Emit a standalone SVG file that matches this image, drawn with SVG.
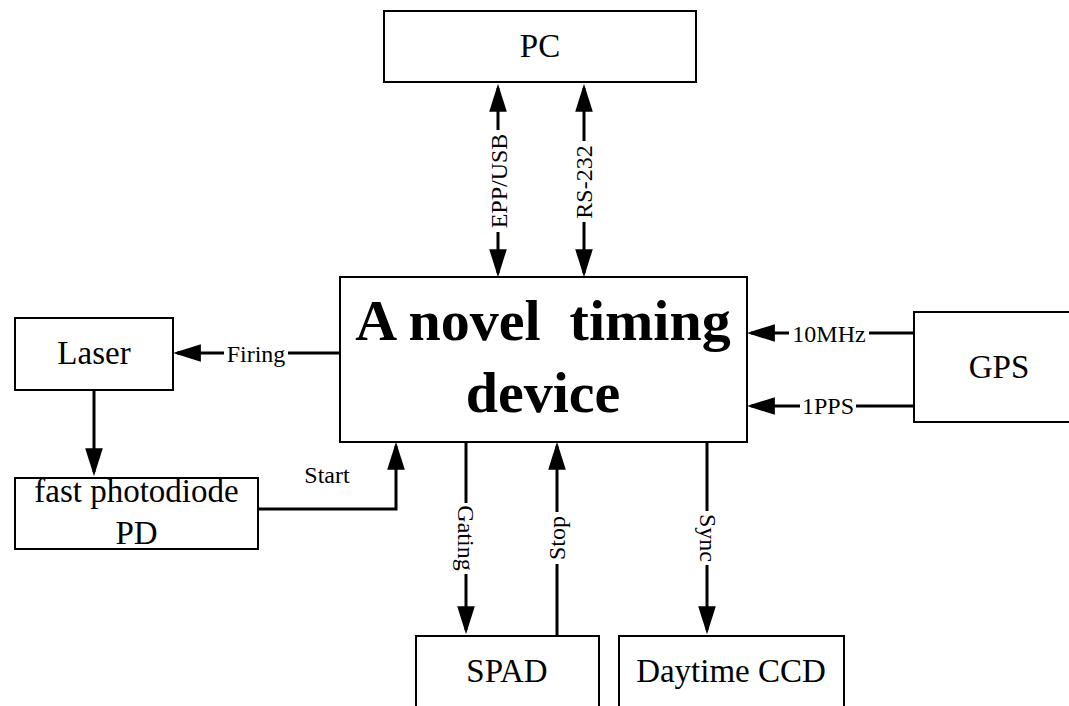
<svg xmlns="http://www.w3.org/2000/svg" width="1069" height="706" viewBox="0 0 1069 706">
<style>
.box{fill:#fff;stroke:#000;stroke-width:2}
.t{font-family:"Liberation Serif","Times New Roman",serif;font-size:33px;text-anchor:middle;fill:#000}
.big{font-family:"Liberation Serif","Times New Roman",serif;font-size:58px;font-weight:bold;text-anchor:middle;fill:#000;white-space:pre}
.c{fill:none;stroke:#000;stroke-width:3}
.lb{font-family:"Liberation Serif","Times New Roman",serif;font-size:24px;text-anchor:middle;fill:#000}
.bg{fill:#fff;stroke:none}
</style>
<defs>
<marker id="ah" markerUnits="userSpaceOnUse" markerWidth="28" markerHeight="18" viewBox="0 0 27 17" refX="23" refY="8.5" orient="auto-start-reverse">
<path d="M0,0 L27,8.5 L0,17 z" fill="#000"/>
</marker>
</defs>
<rect width="1069" height="706" fill="#fff"/>
<g id="connectors">
<path class="c" d="M498,88 V273" marker-start="url(#ah)" marker-end="url(#ah)"/>
<path class="c" d="M584,88 V273" marker-start="url(#ah)" marker-end="url(#ah)"/>
<path class="c" d="M340,353 H177" marker-end="url(#ah)"/>
<path class="c" d="M94,390 V472" marker-end="url(#ah)"/>
<path class="c" d="M258,509 H396 V446" marker-end="url(#ah)"/>
<path class="c" d="M914,333 H751" marker-end="url(#ah)"/>
<path class="c" d="M914,406 H751" marker-end="url(#ah)"/>
<path class="c" d="M466,442 V630" marker-end="url(#ah)"/>
<path class="c" d="M557,636 V446" marker-end="url(#ah)"/>
<path class="c" d="M707,442 V630" marker-end="url(#ah)"/>
<rect class="bg" x="488" y="130" width="20" height="102"/>
<text class="lb" transform="translate(507,181) rotate(-90)">EPP/USB</text>
<rect class="bg" x="574" y="141" width="20" height="81"/>
<text class="lb" transform="translate(592,182) rotate(-90)">RS-232</text>
<rect class="bg" x="224" y="343" width="64" height="22"/>
<text class="lb" x="256" y="362">Firing</text>
<text class="lb" x="327" y="483">Start</text>
<rect class="bg" x="789" y="323" width="80" height="22"/>
<text class="lb" x="829" y="342">10MHz</text>
<rect class="bg" x="800" y="396" width="56" height="22"/>
<text class="lb" x="828" y="414">1PPS</text>
<rect class="bg" x="454" y="503" width="24" height="71"/>
<text class="lb" transform="translate(458,538) rotate(90)">Gating</text>
<rect class="bg" x="546" y="512" width="22" height="52"/>
<text class="lb" transform="translate(565,538) rotate(-90)">Stop</text>
<rect class="bg" x="696" y="511" width="22" height="54"/>
<text class="lb" transform="translate(700,538) rotate(90)">Sync</text>
</g>
<g id="pc">
<rect class="box" x="384" y="11" width="312" height="71"/>
<text class="t" x="540" y="57">PC</text>
</g>
<g id="timing">
<rect class="box" x="340" y="277" width="407" height="165"/>
<text class="big" x="543" y="340" xml:space="preserve">A novel  timing</text>
<text class="big" x="543" y="412">device</text>
</g>
<g id="laser">
<rect class="box" x="15" y="318" width="158" height="72"/>
<text class="t" x="94" y="364">Laser</text>
</g>
<g id="pd">
<rect class="box" x="15" y="478" width="243" height="71"/>
<text class="t" x="136.5" y="502">fast photodiode</text>
<text class="t" x="136.5" y="544">PD</text>
</g>
<g id="gps">
<rect class="box" x="914" y="312" width="160" height="110"/>
<text class="t" x="999" y="378">GPS</text>
</g>
<g id="spad">
<rect class="box" x="416" y="636" width="183" height="80"/>
<text class="t" x="507" y="682">SPAD</text>
</g>
<g id="ccd">
<rect class="box" x="619" y="636" width="225" height="80"/>
<text class="t" x="731" y="682">Daytime CCD</text>
</g>
</svg>
